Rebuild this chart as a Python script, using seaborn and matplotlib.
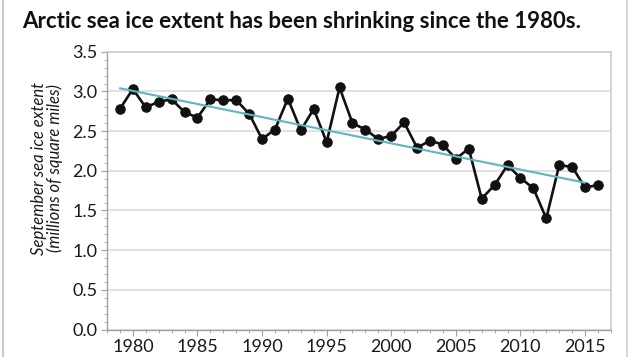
import seaborn as sns
import matplotlib.pyplot as plt
import matplotlib.lines as mlines
from matplotlib.ticker import MultipleLocator
import pandas as pd

# September sea ice extent (millions of square miles)
years = list(range(1979, 2017))
extent = [2.78, 3.03, 2.80, 2.87, 2.90, 2.74, 2.67, 2.90, 2.89, 2.89,
          2.72, 2.40, 2.52, 2.91, 2.51, 2.78, 2.36, 3.05, 2.60, 2.52,
          2.40, 2.44, 2.61, 2.29, 2.38, 2.33, 2.15, 2.28, 1.65, 1.82,
          2.07, 1.91, 1.78, 1.40, 2.07, 2.05, 1.79, 1.82]

# trend line as drawn
trend_years = [1979, 2015]
trend_values = [3.04, 1.85]

yticks = [0.0, 0.5, 1.0, 1.5, 2.0, 2.5, 3.0, 3.5]
xticks = [1980, 1985, 1990, 1995, 2000, 2005, 2010, 2015]

df = pd.DataFrame({'year': years, 'extent': extent})
df_trend = pd.DataFrame({'year': trend_years, 'extent': trend_values})

sns.set_style('white')
plt.rcParams['font.family'] = ['Lato', 'DejaVu Sans']

fig = plt.figure(figsize=(6.35, 3.57), dpi=100)
ax = fig.add_axes([0.1685, 0.077, 0.7935, 0.778])

sns.lineplot(data=df, x='year', y='extent', color='#111111', linewidth=1.9,
             marker='o', markersize=6.8, markeredgecolor='#111111', ax=ax, zorder=3)
sns.lineplot(data=df_trend, x='year', y='extent', color='#5db6c6', linewidth=1.5,
             ax=ax, zorder=4)

ax.set_xlim(1978, 2017)
ax.set_ylim(0, 3.5)
ax.set_yticks(yticks)
ax.set_yticklabels([f'{v:.1f}' for v in yticks])
ax.set_xticks(xticks)
ax.xaxis.set_minor_locator(MultipleLocator(1))
ax.yaxis.set_minor_locator(MultipleLocator(0.1))

ax.grid(axis='y', color='#dcdcdc', linewidth=1.2)
ax.set_axisbelow(True)

for side in ['top', 'right']:
    ax.spines[side].set_color('#cccccc')
    ax.spines[side].set_linewidth(1.2)
for side in ['left', 'bottom']:
    ax.spines[side].set_color('#a0a0a0')
    ax.spines[side].set_linewidth(1.0)

ax.tick_params(axis='both', which='major', direction='out', length=4, width=0.8,
               color='#a0a0a0', labelsize=13, labelcolor='#1a1a1a', pad=3,
               left=True, bottom=True)
ax.tick_params(axis='both', which='minor', direction='out', length=2.5, width=0.6,
               color='#a0a0a0', left=True, bottom=True)

ax.set_xlabel('')
ax.set_ylabel('September sea ice extent\n(millions of square miles)',
              fontsize=12, style='italic', color='#1a1a1a',
              linespacing=0.95)
ax.yaxis.set_label_coords(-0.088, 0.58)

fig.text(0.035, 0.968, 'Arctic sea ice extent has been shrinking since the 1980s.',
         fontsize=16, fontweight='bold', color='#111111', va='top', ha='left')

# light frame lines at the sides of the figure
fig.add_artist(mlines.Line2D([0.005, 0.005], [0, 1], color='#c8ccd2', linewidth=1.5,
                             transform=fig.transFigure))
fig.add_artist(mlines.Line2D([0.988, 0.988], [0, 1], color='#d4d8dc', linewidth=1.5,
                             transform=fig.transFigure))

fig.savefig('out.png', dpi=100)
